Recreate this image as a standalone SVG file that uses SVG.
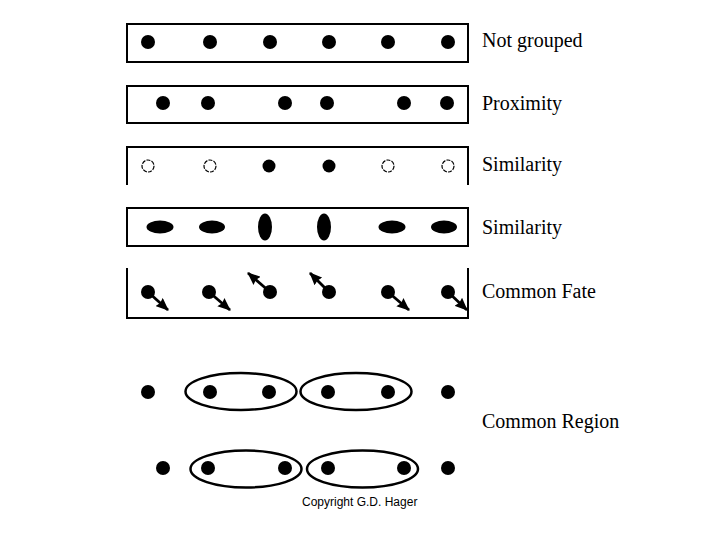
<svg xmlns="http://www.w3.org/2000/svg" width="720" height="540" viewBox="0 0 720 540">
<style>
.box{fill:none;stroke:#000;stroke-width:2}
.dot{fill:#000}
.open{fill:#fff;stroke:#000;stroke-width:1.2;stroke-dasharray:4 1.2}
.lbl{font-family:"Liberation Serif","Times New Roman",serif;font-size:20px;fill:#000}
.ring{fill:none;stroke:#000;stroke-width:2.5}
.arr{stroke:#000;stroke-width:2.8;fill:none;marker-end:url(#ah)}
.copy{font-family:"Liberation Sans",Arial,sans-serif;font-size:12px;fill:#000}
</style>
<defs>
<marker id="ah" markerUnits="userSpaceOnUse" markerWidth="13" markerHeight="11" refX="12" refY="5.5" orient="auto" viewBox="0 0 13 11">
<polygon points="0,0 13,5.5 0,11 1.5,5.5" fill="#000"/>
</marker>
</defs>
<rect width="720" height="540" fill="#fff"/>

<g id="row-not-grouped">
<rect class="box" x="127" y="24" width="341" height="38"/>
<circle class="dot" cx="148" cy="42" r="7"/>
<circle class="dot" cx="210" cy="42" r="7"/>
<circle class="dot" cx="270" cy="42" r="7"/>
<circle class="dot" cx="329" cy="42" r="7"/>
<circle class="dot" cx="388" cy="42" r="7"/>
<circle class="dot" cx="448" cy="42" r="7"/>
<text class="lbl" x="482" y="47">Not grouped</text>
</g>

<g id="row-proximity">
<rect class="box" x="127" y="86" width="341" height="37"/>
<circle class="dot" cx="163" cy="103" r="7"/>
<circle class="dot" cx="208" cy="103" r="7"/>
<circle class="dot" cx="285" cy="103" r="7"/>
<circle class="dot" cx="327" cy="103" r="7"/>
<circle class="dot" cx="404" cy="103" r="7"/>
<circle class="dot" cx="447" cy="103" r="7"/>
<text class="lbl" x="482" y="110">Proximity</text>
</g>

<g id="row-similarity-1">
<path class="box" d="M127,185 V147 H468 V185"/>
<circle class="open" cx="148" cy="166" r="6"/>
<circle class="open" cx="210" cy="166" r="6"/>
<circle class="dot" cx="269" cy="166" r="6.5"/>
<circle class="dot" cx="329" cy="166" r="6.5"/>
<circle class="open" cx="388" cy="166" r="6"/>
<circle class="open" cx="448" cy="166" r="6"/>
<text class="lbl" x="482" y="171">Similarity</text>
</g>

<g id="row-similarity-2">
<rect class="box" x="127" y="208" width="341" height="38"/>
<ellipse class="dot" cx="160" cy="227" rx="13.5" ry="6.5"/>
<ellipse class="dot" cx="212" cy="227" rx="13" ry="6.5"/>
<ellipse class="dot" cx="265" cy="227" rx="7" ry="13.5"/>
<ellipse class="dot" cx="324" cy="227" rx="7" ry="13.5"/>
<ellipse class="dot" cx="392" cy="227" rx="13.5" ry="6.5"/>
<ellipse class="dot" cx="444" cy="227" rx="13" ry="6.5"/>
<text class="lbl" x="482" y="234">Similarity</text>
</g>

<g id="row-common-fate">
<path class="box" d="M127,268 V318 H468 V268"/>
<circle class="dot" cx="148" cy="292" r="7"/>
<circle class="dot" cx="209" cy="292" r="7"/>
<circle class="dot" cx="270" cy="292" r="7"/>
<circle class="dot" cx="329" cy="292" r="7"/>
<circle class="dot" cx="388" cy="292" r="7"/>
<circle class="dot" cx="448" cy="292" r="7"/>
<text class="lbl" x="482" y="298">Common Fate</text>
</g>

<g id="connectors">
<line class="arr" x1="148" y1="292" x2="168" y2="310"/>
<line class="arr" x1="209" y1="292" x2="230" y2="310"/>
<line class="arr" x1="270" y1="292" x2="248" y2="273"/>
<line class="arr" x1="329" y1="292" x2="310" y2="273"/>
<line class="arr" x1="388" y1="292" x2="409" y2="310"/>
<line class="arr" x1="448" y1="292" x2="467" y2="310"/>
</g>

<g id="row-common-region-1">
<circle class="dot" cx="148" cy="392" r="7"/>
<ellipse class="ring" cx="241" cy="391.5" rx="55.5" ry="18.5"/>
<circle class="dot" cx="210" cy="392" r="7"/>
<circle class="dot" cx="269" cy="392" r="7"/>
<ellipse class="ring" cx="356" cy="391.5" rx="55.5" ry="18.5"/>
<circle class="dot" cx="328" cy="392" r="7"/>
<circle class="dot" cx="388" cy="392" r="7"/>
<circle class="dot" cx="448" cy="392" r="7"/>
</g>

<g id="row-common-region-2">
<circle class="dot" cx="163" cy="468" r="7"/>
<ellipse class="ring" cx="246" cy="469" rx="55.5" ry="18.5"/>
<circle class="dot" cx="208" cy="468" r="7"/>
<circle class="dot" cx="285" cy="468" r="7"/>
<ellipse class="ring" cx="362.5" cy="469" rx="55.5" ry="18.5"/>
<circle class="dot" cx="328" cy="468" r="7"/>
<circle class="dot" cx="404" cy="468" r="7"/>
<circle class="dot" cx="448" cy="468" r="7"/>
</g>

<text class="lbl" x="482" y="428">Common Region</text>
<text class="copy" x="302" y="506">Copyright G.D. Hager</text>
</svg>
